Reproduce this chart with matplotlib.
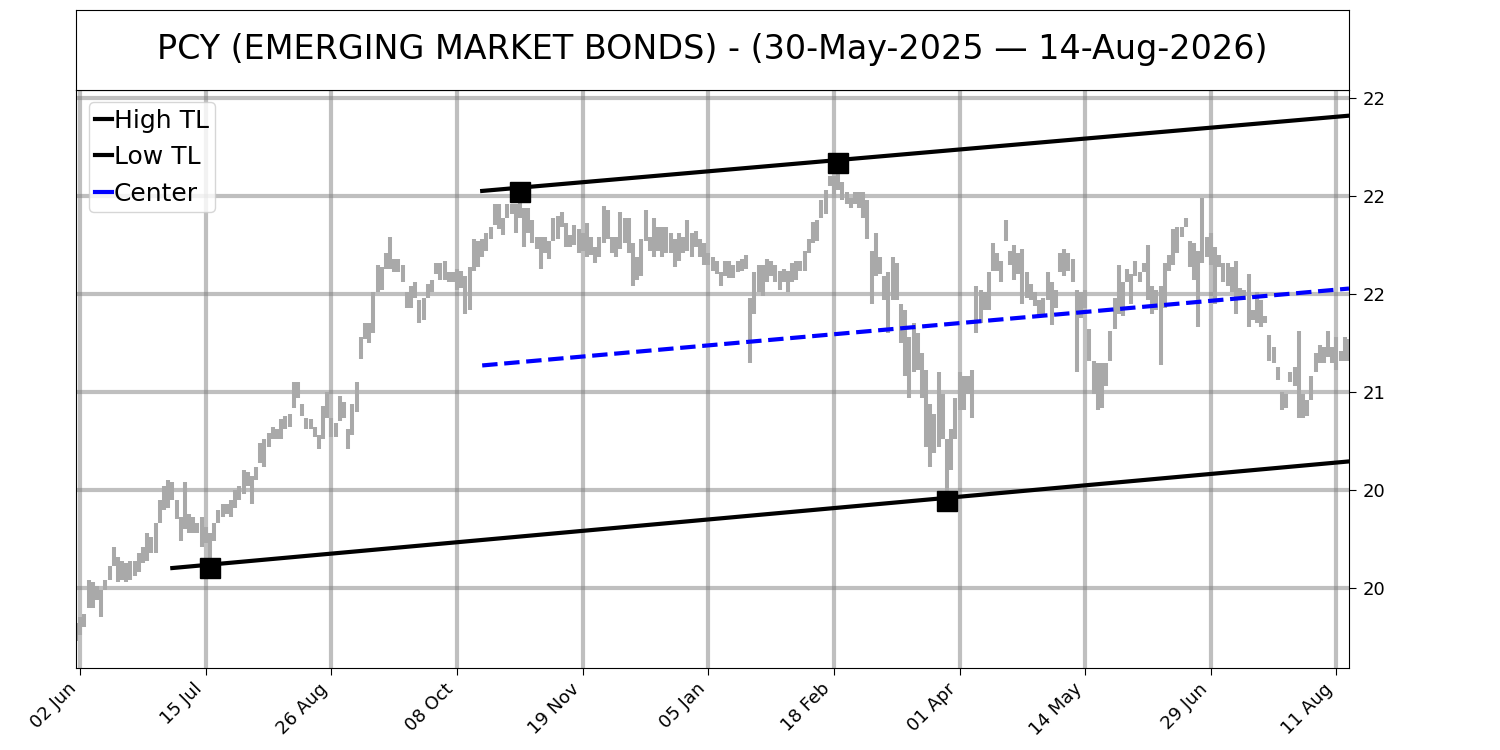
import numpy as np
import matplotlib
matplotlib.use('Agg')
import matplotlib.pyplot as plt
from matplotlib.ticker import MultipleLocator, FormatStrFormatter

title = 'PCY (EMERGING MARKET BONDS) - (30-May-2025 \u2014 14-Aug-2026)'

# daily bar highs / lows, one per trading day (index 0 = 30-May-2025)
highs = [
    19.82, 19.85, 19.87, 20.04, 20.03, 20.01, 19.99, 20.04, 20.11, 20.21,
    20.16, 20.14, 20.13, 20.14, 20.14, 20.18, 20.21, 20.28, 20.26, 20.33,
    20.45, 20.52, 20.55, 20.54, 20.45, 20.36, 20.54, 20.38, 20.36, 20.33,
    20.36, 20.31, 20.28, 20.33, 20.40, 20.43, 20.43, 20.45, 20.50, 20.52,
    20.60, 20.59, 20.57, 20.62, 20.74, 20.76, 20.79, 20.82, 20.81, 20.86,
    20.88, 20.89, 21.05, 21.05, 20.94, 20.87, 20.86, 20.82, 20.78, 20.93,
    21.00, 20.87, 20.84, 20.98, 20.95, 20.81, 20.94, 21.05, 21.28, 21.35,
    21.35, 21.51, 21.65, 21.64, 21.71, 21.79, 21.68, 21.68, 21.65, 21.51,
    21.54, 21.56, 21.47, 21.48, 21.55, 21.57, 21.66, 21.66, 21.67, 21.61,
    21.61, 21.63, 21.62, 21.59, 21.64, 21.78, 21.77, 21.78, 21.81, 21.84,
    21.96, 21.96, 21.89, 21.96, 21.96, 21.96, 22.01, 21.94, 21.94, 21.88,
    21.79, 21.79, 21.79, 21.77, 21.89, 21.90, 21.92, 21.86, 21.80, 21.85,
    21.83, 21.81, 21.86, 21.79, 21.74, 21.79, 21.95, 21.93, 21.79, 21.79,
    21.92, 21.89, 21.89, 21.76, 21.69, 21.78, 21.93, 21.79, 21.89, 21.84,
    21.84, 21.84, 21.81, 21.78, 21.81, 21.79, 21.88, 21.81, 21.82, 21.78,
    21.76, 21.71, 21.69, 21.67, 21.61, 21.67, 21.67, 21.65, 21.67, 21.68,
    21.70, 21.48, 21.61, 21.65, 21.65, 21.68, 21.67, 21.65, 21.62, 21.63,
    21.62, 21.66, 21.67, 21.67, 21.72, 21.78, 21.87, 21.88, 21.98, 22.03,
    22.10, 22.10, 22.16, 22.07, 22.02, 21.99, 22.02, 22.02, 22.02, 21.98,
    21.72, 21.81, 21.69, 21.59, 21.61, 21.69, 21.66, 21.45, 21.42, 21.28,
    21.35, 21.30, 21.20, 21.11, 20.94, 20.89, 21.10, 20.99, 20.76, 20.81,
    20.97, 21.10, 21.08, 21.08, 21.11, 21.54, 21.52, 21.51, 21.61, 21.76,
    21.71, 21.67, 21.88, 21.72, 21.75, 21.71, 21.73, 21.61, 21.55, 21.51,
    21.47, 21.48, 21.61, 21.56, 21.52, 21.71, 21.73, 21.71, 21.68, 21.52,
    21.51, 21.52, 21.32, 21.16, 21.15, 21.15, 21.15, 21.31, 21.48, 21.65,
    21.56, 21.63, 21.60, 21.67, 21.61, 21.66, 21.75, 21.54, 21.52, 21.54,
    21.66, 21.70, 21.83, 21.84, 21.84, 21.89, 21.77, 21.76, 21.72, 21.99,
    21.79, 21.81, 21.74, 21.70, 21.66, 21.66, 21.64, 21.67, 21.53, 21.52,
    21.60, 21.42, 21.51, 21.47, 21.39, 21.29, 21.23, 21.13, 21.00, 20.99,
    21.10, 21.13, 21.31, 20.99, 20.96, 21.08, 21.20, 21.24, 21.23, 21.31,
    21.23, 21.28, 21.21, 21.28, 21.27,
]
lows = [
    19.73, 19.76, 19.80, 19.90, 19.90, 19.94, 19.85, 19.99, 20.04, 20.11,
    20.03, 20.04, 20.03, 20.04, 20.06, 20.08, 20.13, 20.14, 20.18, 20.18,
    20.33, 20.40, 20.41, 20.45, 20.35, 20.24, 20.30, 20.28, 20.28, 20.28,
    20.21, 20.23, 20.10, 20.24, 20.33, 20.36, 20.38, 20.36, 20.41, 20.45,
    20.48, 20.52, 20.43, 20.55, 20.64, 20.62, 20.72, 20.76, 20.76, 20.76,
    20.81, 20.82, 20.92, 20.97, 20.88, 20.81, 20.81, 20.77, 20.71, 20.76,
    20.87, 20.77, 20.77, 20.85, 20.87, 20.71, 20.78, 20.90, 21.17, 21.27,
    21.25, 21.30, 21.51, 21.52, 21.63, 21.63, 21.61, 21.61, 21.56, 21.43,
    21.43, 21.48, 21.35, 21.37, 21.48, 21.51, 21.60, 21.57, 21.57, 21.56,
    21.56, 21.52, 21.53, 21.40, 21.42, 21.62, 21.64, 21.69, 21.72, 21.78,
    21.85, 21.83, 21.80, 21.89, 21.91, 21.81, 21.89, 21.74, 21.81, 21.76,
    21.73, 21.63, 21.71, 21.68, 21.77, 21.78, 21.84, 21.74, 21.74, 21.75,
    21.71, 21.72, 21.69, 21.70, 21.66, 21.69, 21.76, 21.78, 21.71, 21.69,
    21.73, 21.76, 21.71, 21.54, 21.57, 21.59, 21.77, 21.72, 21.69, 21.72,
    21.69, 21.71, 21.71, 21.64, 21.67, 21.71, 21.72, 21.69, 21.74, 21.69,
    21.65, 21.65, 21.62, 21.60, 21.54, 21.59, 21.58, 21.58, 21.61, 21.62,
    21.63, 21.15, 21.40, 21.51, 21.49, 21.56, 21.59, 21.56, 21.52, 21.56,
    21.51, 21.56, 21.57, 21.62, 21.62, 21.71, 21.76, 21.77, 21.89, 21.91,
    22.05, 21.99, 22.03, 21.98, 21.96, 21.94, 21.96, 21.94, 21.89, 21.78,
    21.45, 21.59, 21.60, 21.47, 21.30, 21.47, 21.47, 21.25, 21.08, 20.97,
    21.10, 21.11, 20.97, 20.72, 20.62, 20.69, 20.72, 20.76, 20.46, 20.60,
    20.76, 20.91, 20.91, 20.99, 20.87, 21.30, 21.35, 21.42, 21.42, 21.62,
    21.62, 21.56, 21.77, 21.65, 21.57, 21.60, 21.45, 21.48, 21.47, 21.44,
    21.38, 21.40, 21.47, 21.34, 21.43, 21.61, 21.59, 21.62, 21.56, 21.10,
    21.38, 21.43, 21.16, 20.99, 20.91, 20.92, 21.03, 21.16, 21.32, 21.40,
    21.39, 21.56, 21.45, 21.59, 21.56, 21.61, 21.47, 21.40, 21.42, 21.14,
    21.43, 21.62, 21.65, 21.71, 21.79, 21.84, 21.64, 21.57, 21.33, 21.66,
    21.69, 21.65, 21.45, 21.64, 21.56, 21.54, 21.51, 21.40, 21.47, 21.47,
    21.33, 21.37, 21.35, 21.33, 21.35, 21.16, 21.15, 21.06, 20.91, 20.92,
    21.05, 21.03, 20.87, 20.87, 20.88, 20.96, 21.10, 21.15, 21.15, 21.18,
    21.15, 21.11, 21.16, 21.16, 21.16,
]

tick_labels = ['02 Jun', '15 Jul', '26 Aug', '08 Oct', '19 Nov', '05 Jan',
               '18 Feb', '01 Apr', '14 May', '29 Jun', '11 Aug']

# trend lines (start index, end index, start value, end value)
high_tl_x = [97, 304]
high_tl_y = [22.026, 22.410]
low_tl_x = [23, 304]
low_tl_y = [20.102, 20.646]

# pivot points
pivot_hi_x = [106, 182]
pivot_hi_y = [22.022, 22.168]
pivot_lo_x = [32, 208]
pivot_lo_y = [20.102, 20.444]

x = np.arange(len(highs))

fig = plt.figure(figsize=(15, 7.5), dpi=100)
ax = fig.add_axes([76 / 1500, 82 / 750, 1273 / 1500, 578 / 750])
tax = fig.add_axes([76 / 1500, 660 / 750, 1273 / 1500, 80 / 750])

tax.set_xticks([])
tax.set_yticks([])
tax.text(0.5, 0.5, title, ha='center', va='center', fontsize=24,
         transform=tax.transAxes)

ax.vlines(x, lows, highs, color='darkgray', linewidth=2.9, zorder=2)

ax.plot(high_tl_x, high_tl_y, color='black', linewidth=3, label='High TL', zorder=3)
ax.plot(low_tl_x, low_tl_y, color='black', linewidth=3, label='Low TL', zorder=3)

# center line = midpoint between the two trend lines over the high TL span
lo_at = np.interp(high_tl_x, low_tl_x, low_tl_y)
center_y = (np.array(high_tl_y) + lo_at) / 2
ax.plot(high_tl_x, center_y, color='blue', linestyle='--', linewidth=3,
        label='Center', zorder=3)

ax.plot(pivot_hi_x, pivot_hi_y, 's', color='black', markersize=15, zorder=4)
ax.plot(pivot_lo_x, pivot_lo_y, 's', color='black', markersize=15, zorder=4)

ax.set_xlim(0, len(highs) - 1)
ax.set_ylim(19.592, 22.541)
ax.set_xticks(np.arange(1, len(highs), 30))
ax.set_xticklabels(tick_labels, rotation=45, ha='right', fontsize=13)
ax.yaxis.tick_right()
ax.yaxis.set_major_locator(MultipleLocator(0.5))
ax.yaxis.set_major_formatter(FormatStrFormatter('%.0f'))
ax.tick_params(axis='y', labelsize=13, length=5, pad=5)
ax.tick_params(axis='x', length=5)
ax.grid(True, color='gray', alpha=0.5, linewidth=3)

leg = ax.legend(loc='upper left', fontsize=18, handlelength=0.7, handletextpad=0.05,
                borderpad=0.25, labelspacing=0.5, borderaxespad=0.5)
# short legend handles are drawn solid
for h in leg.get_lines():
    h.set_linestyle('-')

fig.savefig('out.png', dpi=100)
